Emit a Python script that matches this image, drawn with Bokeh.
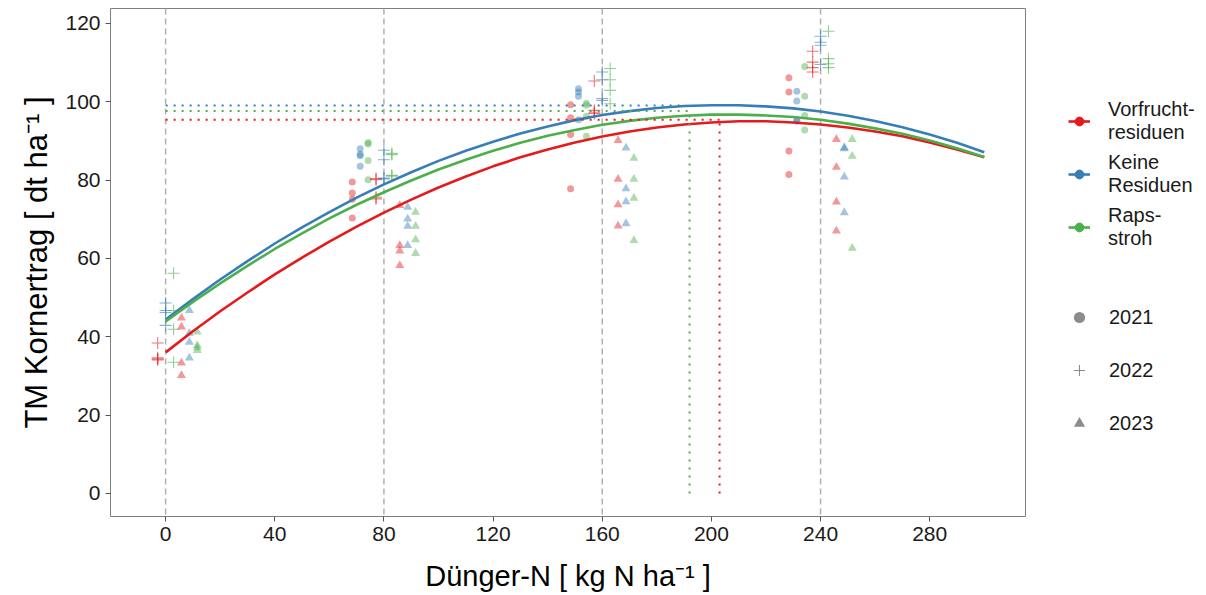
import numpy as np
from bokeh.plotting import figure
from bokeh.layouts import row
from bokeh.models import Range1d, Span, Legend, LegendItem, FixedTicker
from bokeh.embed import file_html
from bokeh.resources import INLINE

# ---------------- data ----------------
N_levels = [0, 80, 160, 240]
x_ticks = [0, 40, 80, 120, 160, 200, 240, 280]
y_ticks = [0, 20, 40, 60, 80, 100, 120]

treatments = ["Vorfrucht-\nresiduen", "Keine\nResiduen", "Raps-\nstroh"]
colors = ["#E41A1C", "#377EB8", "#4DAF4A"]
years = ["2021", "2022", "2023"]
markers = ["circle", "cross", "triangle"]

# N levels sampled per year
N_2021 = [80, 160, 240]
N_2022 = [0, 80, 160, 240]
N_2023 = [0, 80, 160, 240]

# yields [dt/ha], per year and treatment, one list per N level
yield_2021_vorfrucht = [[79.5, 76.7, 75.1, 70.3], [99.2, 95.9, 91.6, 77.8], [106.1, 102.5, 87.4, 81.4]]
yield_2021_keine = [[88.0, 86.6, 86.2, 83.5], [103.3, 102.5, 101.4, 95.4], [102.7, 100.2, 95.3, 95.0]]
yield_2021_raps = [[89.6, 89.2, 85.0, 80.1], [99.6, 99.1, 96.3, 91.2], [109.0, 101.4, 96.5, 92.8]]

yield_2022_vorfrucht = [[38.4, 34.6, 34.3, 34.1], [80.4, 80.1, 75.6, 75.2], [105.3, 97.8, 97.3, 97.0], [112.9, 110.1, 108.7, 107.6]]
yield_2022_keine = [[48.6, 46.7, 46.2, 42.9], [87.6, 85.2, 80.5, 80.3], [107.6, 105.6, 100.8, 100.3], [116.7, 115.2, 114.4, 109.5]]
yield_2022_raps = [[56.2, 46.7, 41.9, 33.5], [86.8, 86.5, 81.2, 81.0], [108.5, 105.6, 102.9, 99.5], [118.0, 111.0, 109.7, 108.7]]

yield_2023_vorfrucht = [[44.8, 42.5, 33.3, 30.1], [73.5, 63.3, 61.9, 58.2], [90.1, 80.2, 73.7, 68.3], [90.4, 83.3, 74.4, 67.0]]
yield_2023_keine = [[46.7, 40.9, 38.6, 34.6], [73.1, 70.1, 68.2, 63.3], [88.2, 77.8, 74.5, 68.9], [88.3, 88.0, 80.8, 71.7]]
yield_2023_raps = [[41.2, 37.8, 37.2, 36.5], [71.8, 68.2, 64.8, 61.3], [85.6, 80.2, 75.4, 64.6], [90.4, 86.1, 62.6]]

# fitted response curves (values read at every 10 kg N)
curve_N = [0, 10, 20, 30, 40, 50, 60, 70, 80, 90, 100, 110, 120, 130, 140, 150,
           160, 170, 180, 190, 200, 210, 220, 230, 240, 250, 260, 270, 280, 290, 300]
curve_vorfrucht = [36.0, 41.4, 46.5, 51.3, 55.9, 60.2, 64.3, 68.1, 71.7, 75.0, 78.1, 80.9,
                   83.5, 85.8, 87.8, 89.6, 91.1, 92.4, 93.4, 94.2, 94.7, 95.0, 95.0, 94.7,
                   94.2, 93.4, 92.4, 91.2, 89.6, 87.8, 85.8]
curve_keine = [44.4, 49.6, 54.6, 59.3, 63.8, 67.9, 71.8, 75.5, 78.9, 82.0, 84.9, 87.5,
               89.8, 91.9, 93.7, 95.3, 96.6, 97.6, 98.4, 98.9, 99.1, 99.1, 98.8, 98.3,
               97.5, 96.4, 95.1, 93.5, 91.6, 89.5, 87.1]
curve_raps = [43.9, 48.9, 53.6, 58.1, 62.4, 66.4, 70.2, 73.7, 76.9, 79.9, 82.7, 85.2,
              87.5, 89.5, 91.3, 92.8, 94.1, 95.1, 95.9, 96.4, 96.7, 96.7, 96.5, 96.1,
              95.4, 94.4, 93.2, 91.8, 90.1, 88.1, 85.9]

# optimum N and yield (dotted guide lines)
opt_N = [203.0, 190.2, 192.0]
opt_yield = [95.4, 99.05, 97.6]
opt_vertical = [True, False, True]

# ---------------- main figure ----------------
FONT = "Liberation Sans"
H = 594
p = figure(width=1030, height=H,
           x_range=Range1d(-20.2, 315.1), y_range=Range1d(-5.9, 123.8),
           output_backend="svg", toolbar_location=None,
           min_border_left=110, min_border_right=5,
           min_border_top=8, min_border_bottom=78)
p.xgrid.visible = False
p.ygrid.visible = False
p.outline_line_color = "#7f7f7f"
p.outline_line_width = 1
p.background_fill_color = "white"
p.border_fill_color = "white"

for ax in (p.xaxis[0], p.yaxis[0]):
    ax.axis_line_color = None
    ax.major_tick_line_color = "#555555"
    ax.major_tick_out = 5
    ax.major_tick_in = 0
    ax.minor_tick_line_color = None
    ax.major_label_text_font = FONT
    ax.major_label_text_font_size = "21px"
    ax.major_label_text_color = "#1a1a1a"
    ax.axis_label_text_font = FONT
    ax.axis_label_text_font_style = "normal"
    ax.axis_label_text_color = "#000000"
p.xaxis.axis_label_text_font_size = "29px"
p.yaxis.axis_label_text_font_size = "31px"

p.xaxis.ticker = FixedTicker(ticks=x_ticks)
p.yaxis.ticker = FixedTicker(ticks=y_ticks)
p.xaxis.axis_label = "Dünger-N [ kg N ha⁻¹ ]"
p.yaxis.axis_label = "TM Kornertrag [ dt ha⁻¹ ]"
p.xaxis.axis_label_standoff = 16
p.yaxis.axis_label_standoff = 8
p.xaxis.major_label_standoff = 5
p.yaxis.major_label_standoff = 5

# vertical dashed reference lines at the N levels
for n in N_levels:
    p.add_layout(Span(location=n, dimension="height", line_color="#b0b0b0",
                      line_width=1.5, line_dash="6 4", level="underlay"))

# scatter points, dodged by year and treatment
dodge_step = 2.9
year_data = [
    (N_2021, [yield_2021_vorfrucht, yield_2021_keine, yield_2021_raps]),
    (N_2022, [yield_2022_vorfrucht, yield_2022_keine, yield_2022_raps]),
    (N_2023, [yield_2023_vorfrucht, yield_2023_keine, yield_2023_raps]),
]
for yi, (nlist, per_trt) in enumerate(year_data):
    for ti, groups in enumerate(per_trt):
        off = (yi * 3 + ti - 4) * dodge_step
        xs, ys = [], []
        for n, vals in zip(nlist, groups):
            for v in vals:
                xs.append(n + off)
                ys.append(v)
        m = markers[yi]
        if m == "cross":
            p.scatter(xs, ys, marker="cross", size=12, line_color=colors[ti],
                      line_alpha=0.6, line_width=1.1)
        elif m == "circle":
            p.scatter(xs, ys, marker="circle", size=7, fill_color=colors[ti],
                      fill_alpha=0.45, line_color=None)
        else:
            p.scatter(xs, ys, marker="triangle", size=9, fill_color=colors[ti],
                      fill_alpha=0.45, line_color=None)

# fitted curves
curves = [curve_vorfrucht, curve_keine, curve_raps]
for ti, cv in enumerate(curves):
    p.line(curve_N, cv, line_color=colors[ti], line_width=2.6)

# dotted optimum lines
for ti in range(3):
    p.line([0, opt_N[ti]], [opt_yield[ti], opt_yield[ti]], line_color=colors[ti],
           line_width=2, line_dash="2 6")
for ti in range(3):
    if opt_vertical[ti]:
        p.line([opt_N[ti], opt_N[ti]], [0, opt_yield[ti]], line_color=colors[ti],
               line_width=2, line_dash="2 6")

# ---------------- legend panel ----------------
lg = figure(width=175, height=H, output_backend="svg", toolbar_location=None,
            x_axis_location=None, y_axis_location=None,
            min_border=0, min_border_left=0, min_border_right=0,
            min_border_top=0, min_border_bottom=0)
lg.xgrid.visible = False
lg.ygrid.visible = False
lg.outline_line_color = None
lg.background_fill_color = "white"
lg.border_fill_color = "white"

nan = [np.nan]
trt_items = []
for i in range(3):
    rl = lg.line(nan, nan, line_color=colors[i], line_width=2.6)
    rd = lg.scatter(nan, nan, marker="circle", size=6, fill_color=colors[i], line_color=colors[i])
    trt_items.append(LegendItem(label=treatments[i], renderers=[rl, rd]))

yr_r = [
    lg.scatter(nan, nan, marker="circle", size=8, fill_color="#8c8c8c", line_color=None),
    lg.scatter(nan, nan, marker="cross", size=12, line_color="#8c8c8c", line_width=1.1),
    lg.scatter(nan, nan, marker="triangle", size=10, fill_color="#8c8c8c", line_color=None),
]
yr_items = [LegendItem(label=years[i], renderers=[yr_r[i]]) for i in range(3)]

legend1 = Legend(
    items=trt_items, location=(38, 265), glyph_width=22, glyph_height=48, label_height=48,
    spacing=5, padding=0, margin=0, border_line_color=None,
    background_fill_alpha=0, label_standoff=18,
    label_text_font=FONT, label_text_font_size="20px", label_text_color="#1a1a1a")
legend2 = Legend(
    items=yr_items, location=(35, 69), glyph_width=28, glyph_height=48, label_height=48,
    spacing=5, padding=0, margin=0, border_line_color=None,
    background_fill_alpha=0, label_standoff=16,
    label_text_font=FONT, label_text_font_size="20px", label_text_color="#1a1a1a")
lg.add_layout(legend1)
lg.add_layout(legend2)

layout = row(p, lg)
open("out.html", "w").write(file_html(layout, INLINE))
